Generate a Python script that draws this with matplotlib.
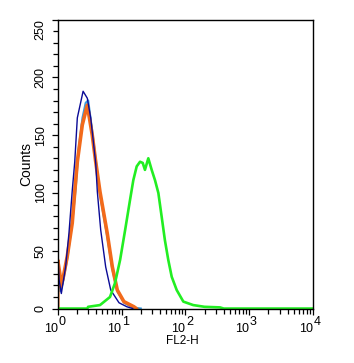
import matplotlib
matplotlib.use("Agg")
import matplotlib.pyplot as plt
import matplotlib.transforms as mtransforms
from matplotlib.ticker import FixedLocator, LogLocator, NullFormatter

plt.rcParams['font.family'] = ['Liberation Sans', 'DejaVu Sans']

# FL2-H values and counts
blue_x = [1.0, 1.0, 1.05, 1.14, 1.33, 1.50, 1.69, 1.85, 2.03, 2.50, 2.91,
          3.29, 3.94, 4.18, 4.72, 5.65, 6.78, 9.14, 12.2, 15.0]
blue_y = [0, 53, 25, 13, 36, 65, 102, 127, 165, 188, 182,
          165, 126, 101, 68, 36, 16, 5, 1.5, 0]

lightblue_x = [1.0, 1.0, 1.1, 1.2, 1.41, 1.69, 1.91, 2.1, 2.45, 2.75, 3.0,
               3.5, 4.0, 4.7, 6.0, 7.2, 8.6, 11.0, 15.0, 20.0]
lightblue_y = [0, 35, 15, 22, 43, 75, 104, 135, 165, 178, 180,
               152, 125, 96, 62, 34, 15, 5, 1, 0]

orange_x = [1.0, 1.0, 1.08, 1.11, 1.20, 1.41, 1.69, 1.85, 2.03, 2.43, 2.91,
            3.48, 3.94, 4.60, 5.98, 7.18, 8.59, 10.9, 15.7, 17.0]
orange_y = [0, 42, 30, 19, 25, 45, 74, 101, 127, 159, 176,
            150, 127, 101, 65, 36, 16, 6, 1.5, 0]

green_x = [1.0, 2.9, 3.0, 4.6, 6.6, 7.9, 9.5, 11.4, 13.6, 15.3, 17.3, 19.5,
           21.5, 23.3, 26.3, 29.7, 33.5, 37.8, 42.7, 47.9, 54.1, 61.2, 73.3,
           93.1, 133, 200, 350, 400, 10000]
green_y = [0, 0, 1.5, 3, 10, 22, 42, 68, 94, 111, 123, 127,
           126, 120, 130, 120, 111, 100, 79, 59, 42, 27.5, 16,
           6, 3, 1.5, 1, 0, 0]

y_major = [0, 50, 100, 150, 200, 250]
x_major = [1, 10, 100, 1000, 10000]
x_exponents = ['0', '1', '2', '3', '4']

fig = plt.figure(figsize=(3.54, 3.63), dpi=100)
ax = fig.add_axes([0.163, 0.150, 0.721, 0.796])

ax.plot(lightblue_x, lightblue_y, color='#3a9be0', lw=1.6)
ax.plot(orange_x, orange_y, color='#f26a1b', lw=2.6)
ax.plot(blue_x, blue_y, color='#0a0a96', lw=1.0)
ax.plot(green_x, green_y, color='#22ee22', lw=1.9)

ax.set_xscale('log')
ax.set_xlim(1, 10000)
ax.set_ylim(0, 250)

ax.set_xticks(x_major)
ax.set_xticklabels([''] * len(x_major))
ax.xaxis.set_minor_locator(LogLocator(base=10, subs=range(2, 10)))
ax.xaxis.set_minor_formatter(NullFormatter())

# decade labels: "10" left of the tick, full-size exponent raised to the right
px = fig.dpi_scale_trans
for v, e in zip(x_major, x_exponents):
    base_tr = ax.get_xaxis_transform() + mtransforms.ScaledTranslation(
        0, -23 / 100, px)
    ax.text(v, 0, '10', transform=base_tr, ha='right', va='baseline',
            fontsize=9, clip_on=False)
    exp_tr = ax.get_xaxis_transform() + mtransforms.ScaledTranslation(
        0.5 / 100, -16.5 / 100, px)
    ax.text(v, 0, e, transform=exp_tr, ha='left', va='baseline',
            fontsize=9, clip_on=False)

ax.set_yticks(y_major)
ax.set_yticklabels([str(v) for v in y_major], rotation=90, va='center')
ax.yaxis.set_minor_locator(FixedLocator(range(0, 251, 10)))

ax.tick_params(axis='both', which='major', direction='out', length=4.5,
               width=0.9, pad=3.5)
ax.tick_params(axis='y', which='major', labelsize=9)
ax.tick_params(axis='both', which='minor', direction='out', length=3.5,
               width=0.9)

# top label sits a bit lower, inside the frame
lbl = ax.get_yticklabels()[-1]
lbl.set_transform(lbl.get_transform() +
                  mtransforms.ScaledTranslation(0, -10 / 100, px))

for s in ax.spines.values():
    s.set_linewidth(1.0)

ax.set_xlabel('FL2-H', fontsize=8.5)
ax.xaxis.set_label_coords(0.49, -0.093)
ax.set_ylabel('Counts', fontsize=10)
ax.yaxis.set_label_coords(-0.095, 0.5)

fig.savefig('out.png', dpi=100)
